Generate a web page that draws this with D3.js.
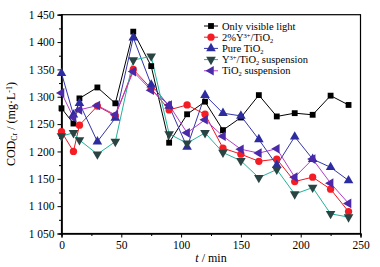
<!DOCTYPE html>
<html>
<head>
<meta charset="utf-8">
<script src="https://cdn.jsdelivr.net/npm/d3@7"></script>
<style>
  body { margin: 0; background: #fff; overflow: hidden; }
  svg { font-family: "Liberation Serif", "DejaVu Serif", serif; display: block; }
</style>
</head>
<body>
<div id="chart"></div>
<script>
// sampling times (min)
const times = [0, 10, 15, 30, 45, 60, 75, 90, 105, 120, 135, 150, 165, 180, 195, 210, 225, 240];

// COD values per series (mg/L)
const onlyLight = [1279, 1251, 1297, 1317, 1288, 1419, 1356, 1216, 1268, 1291, 1239, 1262, 1303, 1264, 1270, 1267, 1302, 1285];
const yDoped    = [1236, 1200, 1248, 1283, 1265, 1350, 1315, 1276, 1285, 1268, 1206, 1195, 1182, 1186, 1145, 1153, 1131, 1090];
const pureTiO2  = [1343, 1267, 1288, 1218, 1261, 1408, 1322, 1283, 1208, 1303, 1270, 1265, 1222, 1175, 1227, 1186, 1171, 1147];
const ySusp     = [1228, 1234, 1221, 1195, 1218, 1367, 1374, 1232, 1215, 1234, 1198, 1183, 1152, 1167, 1122, 1134, 1086, 1080];
const tiSusp    = [1307, 1262, 1276, 1284, 1267, 1346, 1312, 1285, 1234, 1258, 1228, 1204, 1197, 1205, 1153, 1186, 1142, 1105];

const xTicks = [0, 50, 100, 150, 200, 250];
const yTicks = [1050, 1100, 1150, 1200, 1250, 1300, 1350, 1400, 1450];
const yTickLabels = ["1 050", "1 100", "1 150", "1 200", "1 250", "1 300", "1 350", "1 400", "1 450"];

const width = 380, height = 267;
const margin = { top: 14.7, right: 19.5, bottom: 33.5, left: 61.5 };
const innerWidth = width - margin.left - margin.right;
const innerHeight = height - margin.top - margin.bottom;

const svg = d3.select("#chart")
  .append("svg")
  .attr("width", width)
  .attr("height", height);

const g = svg.append("g")
  .attr("transform", `translate(${margin.left},${margin.top})`);

const x = d3.scaleLinear().domain([0, 250]).range([0, innerWidth]);
const y = d3.scaleLinear().domain([1050, 1450]).range([innerHeight, 0]);

// frame
g.append("rect")
  .attr("width", innerWidth)
  .attr("height", innerHeight)
  .attr("fill", "none")
  .attr("stroke", "#000")
  .attr("stroke-width", 1.2);

// x axis with minor ticks
g.append("g")
  .attr("transform", `translate(0,${innerHeight})`)
  .call(d3.axisBottom(x).tickValues(xTicks).tickSize(4).tickPadding(3).tickFormat(d3.format("d")));
g.append("g")
  .attr("transform", `translate(0,${innerHeight})`)
  .call(d3.axisBottom(x).tickValues(d3.range(25, 250, 50)).tickSize(2.5).tickFormat(""));

// y axis with minor ticks
g.append("g")
  .call(d3.axisLeft(y).tickValues(yTicks).tickSize(4).tickPadding(3)
    .tickFormat((d, i) => yTickLabels[i]));
g.append("g")
  .call(d3.axisLeft(y).tickValues(d3.range(1075, 1450, 50)).tickSize(2.5).tickFormat(""));

g.selectAll(".domain").attr("stroke", "#000").attr("stroke-width", 1.2);
g.selectAll(".tick line").attr("stroke", "#000").attr("stroke-width", 1);
g.selectAll(".tick text").attr("font-size", 11.5).attr("fill", "#000")
  .attr("font-family", "Liberation Serif, serif");

// helper: text made of plain / sub / sup pieces
function richText(sel, parts, small) {
  parts.forEach(p => {
    const t = sel.append("tspan").text(p[0]);
    if (p[1] === "sub") t.attr("font-size", small).attr("baseline-shift", "-25%");
    if (p[1] === "sup") t.attr("font-size", small).attr("baseline-shift", "40%");
  });
}

// axis titles
const xt = g.append("text")
  .attr("x", innerWidth / 2)
  .attr("y", innerHeight + 29)
  .attr("text-anchor", "middle")
  .attr("font-size", 12);
xt.append("tspan").attr("font-style", "italic").text("t");
xt.append("tspan").text(" / min");

const yt = g.append("text")
  .attr("transform", `translate(${-47},${innerHeight / 2}) rotate(-90)`)
  .attr("text-anchor", "middle")
  .attr("font-size", 12);
richText(yt, [["COD"], ["Cr", "sub"], [" / (mg·L"], ["-1", "sup"], [")"]], 8);

// series
const series = [
  { name: "only", parts: [["Only visible light"]], values: onlyLight, line: "#000", fill: "#000", symbol: d3.symbolSquare, size: 34, rot: 0 },
  { name: "ydop", parts: [["2%Y"], ["3+", "sup"], ["/TiO"], ["2", "sub"]], values: yDoped, line: "#f0141e", fill: "#f51d25", symbol: d3.symbolCircle, size: 42, rot: 0 },
  { name: "pure", parts: [["Pure TiO"], ["2", "sub"]], values: pureTiO2, line: "#3434a8", fill: "#2c2ca0", symbol: d3.symbolTriangle, size: 40, rot: 0 },
  { name: "ysus", parts: [["Y"], ["3+", "sup"], ["/TiO"], ["2", "sub"], [" suspension"]], values: ySusp, line: "#1fb49c", fill: "#2a4444", symbol: d3.symbolTriangle, size: 40, rot: 180 },
  { name: "tisus", parts: [["TiO"], ["2", "sub"], [" suspension"]], values: tiSusp, line: "#b43cc8", fill: "#4a2aa8", symbol: d3.symbolTriangle, size: 40, rot: -90 }
];

const line = d3.line()
  .x((d, i) => x(times[i]))
  .y(d => y(d));

series.forEach(s => {
  g.append("path")
    .datum(s.values)
    .attr("fill", "none")
    .attr("stroke", s.line)
    .attr("stroke-width", 1)
    .attr("d", line);
});

series.forEach(s => {
  g.selectAll("path.pt-" + s.name)
    .data(s.values)
    .enter().append("path")
    .attr("class", "pt-" + s.name)
    .attr("d", d3.symbol().type(s.symbol).size(s.size))
    .attr("transform", (d, i) => `translate(${x(times[i])},${y(d)}) rotate(${s.rot})`)
    .attr("fill", s.fill);
});

// legend
const legend = svg.append("g").attr("transform", "translate(204,26)");
series.forEach((s, i) => {
  const row = legend.append("g").attr("transform", `translate(0,${i * 11.2})`);
  row.append("line")
    .attr("x1", 0).attr("x2", 14)
    .attr("stroke", s.line).attr("stroke-width", 1);
  row.append("path")
    .attr("d", d3.symbol().type(s.symbol).size(s.size))
    .attr("transform", `translate(7,0) rotate(${s.rot})`)
    .attr("fill", s.fill);
  const t = row.append("text")
    .attr("x", 18)
    .attr("y", 3.5)
    .attr("font-size", 10.5);
  richText(t, s.parts, 6.5);
});
</script>
</body>
</html>
